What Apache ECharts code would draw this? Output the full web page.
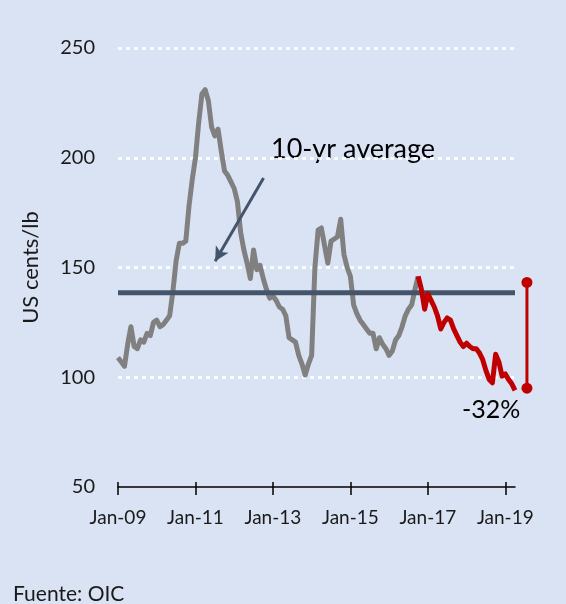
<!DOCTYPE html>
<html>
<head>
<meta charset="utf-8">
<script src="https://cdn.jsdelivr.net/npm/echarts@6/dist/echarts.min.js"></script>
<style>
  html, body { margin: 0; padding: 0; background: #dae3f3; }
  #chart { width: 566px; height: 604px; }
</style>
</head>
<body>
<div id="chart"></div>
<script>
// months counted from Jan-09 (0 = Jan-09)
const xTickMonths = [0, 24, 48, 72, 96, 120];
const xTickLabels = ['Jan-09', 'Jan-11', 'Jan-13', 'Jan-15', 'Jan-17', 'Jan-19'];
const yTicks = [50, 100, 150, 200, 250];

// ICO price, US cents/lb, monthly from Jan-09 to Oct-16 (grey)
const greyValues = [
  109, 107, 105, 115, 123, 114, 113, 117, 116, 120, 119, 125,
  126, 123, 124, 126, 128, 139, 153, 161, 161, 162, 178, 190,
  200, 216, 229, 231, 226, 214, 210, 213, 203, 194, 192, 189,
  186, 180, 166, 158, 152, 145, 158, 149, 151, 145, 140, 136,
  137, 135, 132, 131, 128, 118, 117, 116, 110, 106, 101, 106,
  110, 150, 167, 168, 160, 152, 162, 163, 164, 172, 156, 150,
  146, 133, 129, 126, 124, 122, 120, 120, 113, 118, 115, 113,
  110, 112, 117, 119, 123, 128, 131, 133, 140, 146
];
// recent decline, monthly from Oct-16 to Apr-19 (red)
const redStart = 93;
const redValues = [
  146, 140, 131, 138, 135, 132, 128, 122, 125, 127, 126, 122,
  119, 116, 114, 115.5, 114, 113, 113, 111, 108, 103, 99, 97.5,
  110.5, 107, 100.5, 101.5, 99, 97, 94
];
const averageValue = 138.5;
const lastMonth = 123;
// -32% drop marker: from 10-yr high point to latest level
const dropMonth = 126.7;
const dropRange = [95, 143.2];
const arrowFrom = [45.1, 190.8];
const arrowTo = [30.1, 152.9];

const FONT = 'Lato';
const chart = echarts.init(document.getElementById('chart'));

const greyData = greyValues.map((v, i) => [i, v]);
const redData = redValues.map((v, i) => [redStart + i, v]);

// second, wider grid with the same month scale, used only for the drop marker
const gridLeft = 118, gridRight = 51;
const pxPerMonth = (566 - gridLeft - gridRight) / lastMonth;
const wideMax = 129;
const wideRight = 566 - gridLeft - wideMax * pxPerMonth;

const option = {
  backgroundColor: '#dae3f3',
  animation: false,
  grid: [
    { left: gridLeft, right: gridRight, top: 48, bottom: 117, outerBoundsMode: 'none' },
    { left: gridLeft, right: wideRight, top: 48, bottom: 117, outerBoundsMode: 'none' }
  ],
  xAxis: [
    {
      type: 'value',
      gridIndex: 0,
      min: 0,
      max: lastMonth,
      position: 'bottom',
      axisLine: { show: true, lineStyle: { color: '#000', width: 1.5 } },
      axisTick: { show: true, length: 8, customValues: xTickMonths, lineStyle: { color: '#000', width: 1.5 } },
      axisLabel: {
        customValues: xTickMonths,
        margin: 21,
        fontFamily: FONT,
        fontSize: 19,
        color: '#1a1a1a',
        formatter: v => xTickLabels[xTickMonths.indexOf(v)] || ''
      },
      splitLine: { show: false }
    },
    {
      // inner half of the cross-shaped ticks
      type: 'value',
      gridIndex: 0,
      min: 0,
      max: lastMonth,
      position: 'bottom',
      axisLine: { show: false },
      axisTick: { show: true, inside: true, length: 5, customValues: xTickMonths, lineStyle: { color: '#000', width: 1.5 } },
      axisLabel: { show: false },
      splitLine: { show: false }
    },
    {
      type: 'value',
      gridIndex: 1,
      min: 0,
      max: wideMax,
      show: false
    }
  ],
  yAxis: [
    {
      type: 'value',
      gridIndex: 0,
      min: yTicks[0],
      max: yTicks[yTicks.length - 1],
      interval: 50,
      name: 'US cents/lb',
      nameLocation: 'middle',
      nameRotate: 90,
      nameGap: 76,
      nameTextStyle: { fontFamily: FONT, fontSize: 22, color: '#1a1a1a' },
      axisLine: { show: false },
      axisTick: { show: false },
      axisLabel: { margin: 23, fontFamily: FONT, fontSize: 20, color: '#1a1a1a' },
      splitLine: {
        show: true,
        showMinLine: false,
        lineStyle: { color: 'rgba(255,255,255,0.85)', width: 3, type: [4, 4] }
      }
    },
    {
      type: 'value',
      gridIndex: 1,
      min: yTicks[0],
      max: yTicks[yTicks.length - 1],
      show: false
    }
  ],
  series: [
    {
      name: 'ICO',
      type: 'line',
      data: greyData,
      symbol: 'none',
      lineStyle: { color: '#808080', width: 5, join: 'round' },
      z: 2
    },
    {
      name: '10-yr average',
      type: 'line',
      data: [[0, averageValue], [lastMonth, averageValue]],
      symbol: 'none',
      lineStyle: { color: '#44546a', width: 5 },
      z: 3,
      markLine: {
        silent: true,
        symbol: ['none', 'arrow'],
        symbolSize: [11, 14],
        label: { show: false },
        lineStyle: { color: '#44546a', width: 3, type: 'solid' },
        data: [[{ coord: arrowFrom }, { coord: arrowTo }]]
      }
    },
    {
      name: 'recent',
      type: 'line',
      data: redData,
      symbol: 'none',
      lineStyle: { color: '#c00000', width: 5, join: 'round' },
      z: 4
    },
    {
      name: 'drop',
      type: 'line',
      xAxisIndex: 2,
      yAxisIndex: 1,
      data: [[dropMonth, dropRange[0]], [dropMonth, dropRange[1]]],
      symbol: 'circle',
      symbolSize: 11,
      showSymbol: true,
      itemStyle: { color: '#c00000' },
      lineStyle: { color: '#c00000', width: 3 },
      z: 4
    }
  ],
  graphic: [
    {
      type: 'text',
      left: 271,
      top: 136,
      style: { text: '10-yr average', font: '27px ' + FONT, fill: '#000' }
    },
    {
      type: 'text',
      left: 462,
      top: 397,
      style: { text: '-32%', font: '25px ' + FONT, fill: '#000' }
    },
    {
      type: 'text',
      left: 13,
      top: 584,
      style: { text: 'Fuente: OIC', font: '21px ' + FONT, fill: '#1a1a1a' }
    }
  ]
};

chart.setOption(option);
</script>
</body>
</html>
